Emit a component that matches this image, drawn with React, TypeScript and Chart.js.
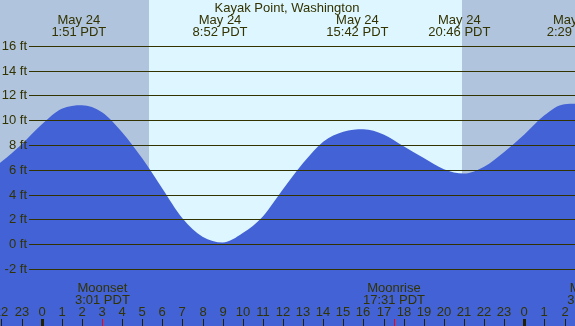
import React, { useEffect, useRef } from "react";
import { Chart, registerables } from "chart.js";

Chart.register(...registerables);

const TITLE = "Kayak Point, Washington";
// tide curve, hourly: hours since midnight May 24, height in ft
const tideHours = [-3, -2, -1, 0, 1, 2, 3, 4, 5, 6, 7, 8, 9, 10, 11, 12, 13, 14, 15, 16, 17, 18, 19, 20, 21, 22, 23, 24, 25, 26, 27];
const tideFt = [5.5, 6.65, 8.05, 9.65, 10.92, 11.22, 10.65, 9.04, 6.93, 4.5, 2.1, 0.6, 0.14, 0.9, 2.25, 4.43, 6.55, 8.27, 9.08, 9.28, 8.85, 7.9, 6.95, 6.05, 5.7, 6.25, 7.45, 8.86, 10.4, 11.3, 11.33];

const extremeHours = [1.85, 8.87, 15.7, 20.77, 26.48];
const extremeDates = ["May 24", "May 24", "May 24", "May 24", "May 25"];
const extremeTimes = ["1:51 PDT", "8:52 PDT", "15:42 PDT", "20:46 PDT", "2:29 PDT"];

const moonHours = [3.02, 17.52, 27.5];
const moonNames = ["Moonset", "Moonrise", "Moonset"];
const moonTimes = ["3:01 PDT", "17:31 PDT", "3:30 PDT"];

const sunriseHour = 5.34;
const sunsetHour = 20.88;

const yTicks = [-2, 0, 2, 4, 6, 8, 10, 12, 14, 16];
const hourTicks = [-2, -1, 0, 1, 2, 3, 4, 5, 6, 7, 8, 9, 10, 11, 12, 13, 14, 15, 16, 17, 18, 19, 20, 21, 22, 23, 24, 25, 26];
const hourLabels = ["22", "23", "0", "1", "2", "3", "4", "5", "6", "7", "8", "9", "10", "11", "12", "13", "14", "15", "16", "17", "18", "19", "20", "21", "22", "23", "0", "1", "2"];

const X_MIN = -2.07;
const X_MAX = 26.52;
const Y_MIN = -6.59;
const Y_MAX = 19.7;

const NIGHT = "#B0C4DE";
const DAY = "#DDF6FF";
const WATER = "#4262D6";
const INK = "#333300";
const FONT = '13px "Liberation Sans", Arial, sans-serif';

const decor = {
  id: "tideDecor",
  beforeDatasetsDraw(chart: any) {
    const { ctx, chartArea, scales } = chart;
    const xs = scales.x;
    ctx.save();
    ctx.fillStyle = NIGHT;
    ctx.fillRect(chartArea.left, chartArea.top, chartArea.right - chartArea.left, chartArea.bottom - chartArea.top);
    const x1 = Math.round(xs.getPixelForValue(sunriseHour));
    const x2 = Math.round(xs.getPixelForValue(sunsetHour));
    ctx.fillStyle = DAY;
    ctx.fillRect(x1, chartArea.top, x2 - x1, chartArea.bottom - chartArea.top);
    ctx.restore();
  },
  afterDatasetsDraw(chart: any) {
    const { ctx, chartArea, scales } = chart;
    const xs = scales.x;
    const ys = scales.y;
    ctx.save();
    ctx.font = FONT;
    ctx.fillStyle = INK;
    ctx.strokeStyle = INK;
    ctx.lineWidth = 1;
    yTicks.forEach((v) => {
      const y = Math.round(ys.getPixelForValue(v)) + 0.5;
      ctx.beginPath();
      ctx.moveTo(29, y);
      ctx.lineTo(chartArea.right, y);
      ctx.stroke();
      ctx.textAlign = "right";
      ctx.textBaseline = "alphabetic";
      ctx.fillText(v + " ft", 27, y + 3);
    });
    ctx.textAlign = "center";
    ctx.fillText(TITLE, 287, 12);
    extremeHours.forEach((h, i) => {
      const x = xs.getPixelForValue(h);
      ctx.fillText(extremeDates[i], x, 24);
      ctx.fillText(extremeTimes[i], x, 36);
    });
    moonHours.forEach((h, i) => {
      const x = xs.getPixelForValue(h);
      ctx.fillText(moonNames[i], x, 292);
      ctx.fillText(moonTimes[i], x, 304);
    });
    hourTicks.forEach((h, i) => {
      const x = Math.round(xs.getPixelForValue(h));
      ctx.fillStyle = INK;
      ctx.fillText(hourLabels[i], x, 316);
      const w = hourLabels[i] === "0" ? 3 : 1;
      ctx.fillStyle = "#222200";
      ctx.fillRect(x - Math.floor(w / 2), 319, w, 7);
    });
    ctx.fillStyle = "#FF0000";
    moonHours.forEach((h) => {
      const x = Math.round(xs.getPixelForValue(h));
      ctx.fillRect(x, 319, 1, 7);
    });
    ctx.restore();
  },
};

export default function App() {
  const ref = useRef<HTMLCanvasElement | null>(null);
  useEffect(() => {
    document.body.style.margin = "0";
    const canvas = ref.current!;
    const chart = new Chart(canvas, {
      type: "line",
      data: {
        datasets: [
          {
            data: tideHours.map((h, i) => ({ x: h, y: tideFt[i] })),
            borderWidth: 0,
            borderColor: WATER,
            backgroundColor: WATER,
            pointRadius: 0,
            fill: "start",
            cubicInterpolationMode: "monotone",
          },
        ],
      },
      options: {
        responsive: false,
        animation: false,
        devicePixelRatio: 1,
        layout: { padding: 0 },
        plugins: { legend: { display: false }, tooltip: { enabled: false }, title: { display: false } },
        scales: {
          x: { type: "linear", min: X_MIN, max: X_MAX, display: false },
          y: { type: "linear", min: Y_MIN, max: Y_MAX, display: false },
        },
      },
      plugins: [decor],
    });
    return () => chart.destroy();
  }, []);
  return <canvas ref={ref} width={575} height={326} style={{ display: "block", width: 575, height: 326 }} />;
}
